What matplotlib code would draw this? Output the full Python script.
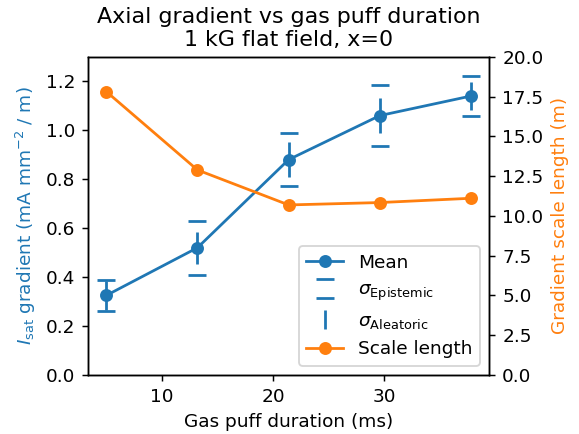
import numpy as np
import matplotlib
matplotlib.use("Agg")
import matplotlib.pyplot as plt

# gas puff duration (ms)
durations = [5.0, 13.2, 21.4, 29.6, 37.8]
# Isat gradient mean and uncertainties (mA mm^-2 / m)
grad_mean = [0.325, 0.52, 0.88, 1.06, 1.14]
sigma_epistemic = [0.063, 0.111, 0.107, 0.125, 0.08]
sigma_aleatoric = [0.06, 0.066, 0.072, 0.072, 0.056]
# gradient scale length (m)
scale_length = [17.82, 12.89, 10.69, 10.84, 11.11]

DPI = 133
fig, ax = plt.subplots(figsize=(579 / DPI, 434 / DPI), dpi=DPI)
fig.subplots_adjust(left=0.152, right=0.845, bottom=0.136, top=0.869)

l1, = ax.plot(durations, grad_mean, "o-", color="C0", label="Mean")
e1 = ax.errorbar(durations, grad_mean, yerr=sigma_epistemic, fmt="none", ecolor="C0",
                 elinewidth=0, capsize=5, capthick=1.5, label=r"$\sigma_\mathrm{Epistemic}$")
e2 = ax.errorbar(durations, grad_mean, yerr=sigma_aleatoric, fmt="none", ecolor="C0",
                 elinewidth=1.5, capsize=0, label=r"$\sigma_\mathrm{Aleatoric}$")
ax.set_ylim(0, 1.3)
ax.set_xlabel("Gas puff duration (ms)")
ax.set_ylabel(r"$I_\mathrm{sat}$ gradient (mA mm$^{-2}$ / m)", color="C0")
ax.set_title("Axial gradient vs gas puff duration\n1 kG flat field, x=0")

ax2 = ax.twinx()
l2, = ax2.plot(durations, scale_length, "o-", color="C1", label="Scale length")
ax2.set_ylim(0, 20)
ax2.set_ylabel("Gradient scale length (m)", color="C1")

ax2.legend([l1, e1, e2, l2], [l1.get_label(), e1.get_label(), e2.get_label(), l2.get_label()],
           loc="lower right")

fig.savefig("out.png", dpi=DPI)
